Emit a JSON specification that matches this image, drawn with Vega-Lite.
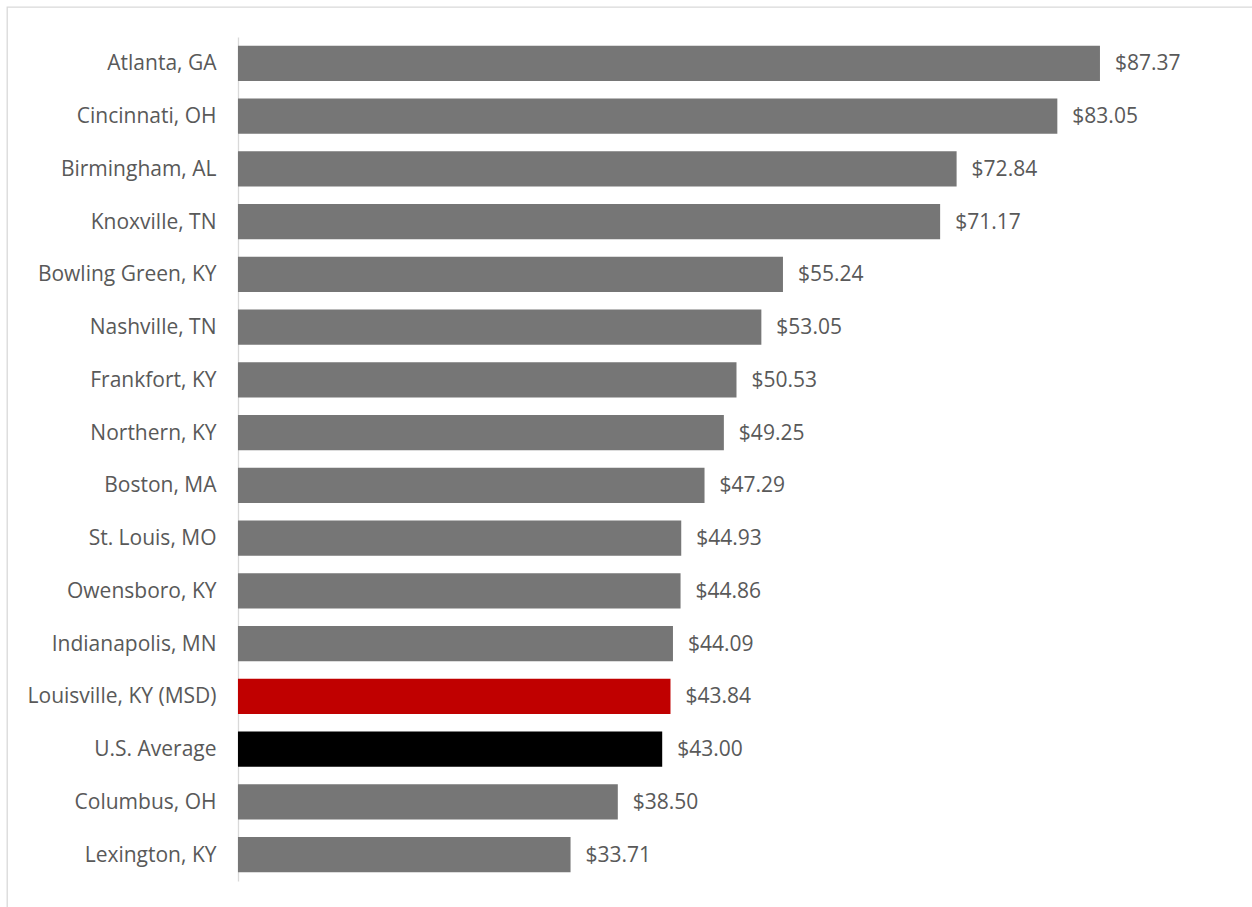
{
  "$schema": "https://vega.github.io/schema/vega-lite/v6.json",
  "autosize": {"type": "none"},
  "padding": {"left": 7, "top": 7, "right": 0, "bottom": 0},
  "width": 1252,
  "height": 907,
  "background": "white",
  "config": {
    "view": {"stroke": "#d9d9d9", "strokeWidth": 1.3},
    "font": "Open Sans"
  },
  "data": {
    "values": [
      {"city": "Atlanta, GA", "rate": 87.37, "group": "Other"},
      {"city": "Cincinnati, OH", "rate": 83.05, "group": "Other"},
      {"city": "Birmingham, AL", "rate": 72.84, "group": "Other"},
      {"city": "Knoxville, TN", "rate": 71.17, "group": "Other"},
      {"city": "Bowling Green, KY", "rate": 55.24, "group": "Other"},
      {"city": "Nashville, TN", "rate": 53.05, "group": "Other"},
      {"city": "Frankfort, KY", "rate": 50.53, "group": "Other"},
      {"city": "Northern, KY", "rate": 49.25, "group": "Other"},
      {"city": "Boston, MA", "rate": 47.29, "group": "Other"},
      {"city": "St. Louis, MO", "rate": 44.93, "group": "Other"},
      {"city": "Owensboro, KY", "rate": 44.86, "group": "Other"},
      {"city": "Indianapolis, MN", "rate": 44.09, "group": "Other"},
      {"city": "Louisville, KY (MSD)", "rate": 43.84, "group": "Louisville"},
      {"city": "U.S. Average", "rate": 43.00, "group": "US"},
      {"city": "Columbus, OH", "rate": 38.50, "group": "Other"},
      {"city": "Lexington, KY", "rate": 33.71, "group": "Other"}
    ]
  },
  "encoding": {
    "y": {
      "field": "city",
      "type": "nominal",
      "sort": null,
      "scale": {"range": [30, 874], "paddingInner": 0.336, "paddingOuter": 0.168},
      "axis": {
        "title": null,
        "offset": -231,
        "ticks": false,
        "domainColor": "#d9d9d9",
        "domainWidth": 1.3,
        "labelPadding": 22,
        "labelFont": "Open Sans",
        "labelFontSize": 21,
        "labelColor": "#595959",
        "labelLimit": 300,
        "labelOffset": 1
      }
    }
  },
  "layer": [
    {
      "mark": {"type": "bar"},
      "encoding": {
        "x": {
          "field": "rate",
          "type": "quantitative",
          "scale": {"domain": [-23.41, 103.49], "nice": false, "zero": false},
          "axis": null
        },
        "x2": {"datum": 0},
        "color": {
          "field": "group",
          "type": "nominal",
          "scale": {"domain": ["Other", "Louisville", "US"], "range": ["#767676", "#C00000", "#000000"]},
          "legend": null
        }
      }
    },
    {
      "mark": {"type": "text", "align": "left", "baseline": "middle", "dx": 15, "dy": 1, "fontSize": 21, "font": "Open Sans", "color": "#595959"},
      "encoding": {
        "x": {"field": "rate", "type": "quantitative"},
        "text": {"field": "rate", "type": "quantitative", "format": "$.2f"}
      }
    }
  ]
}
